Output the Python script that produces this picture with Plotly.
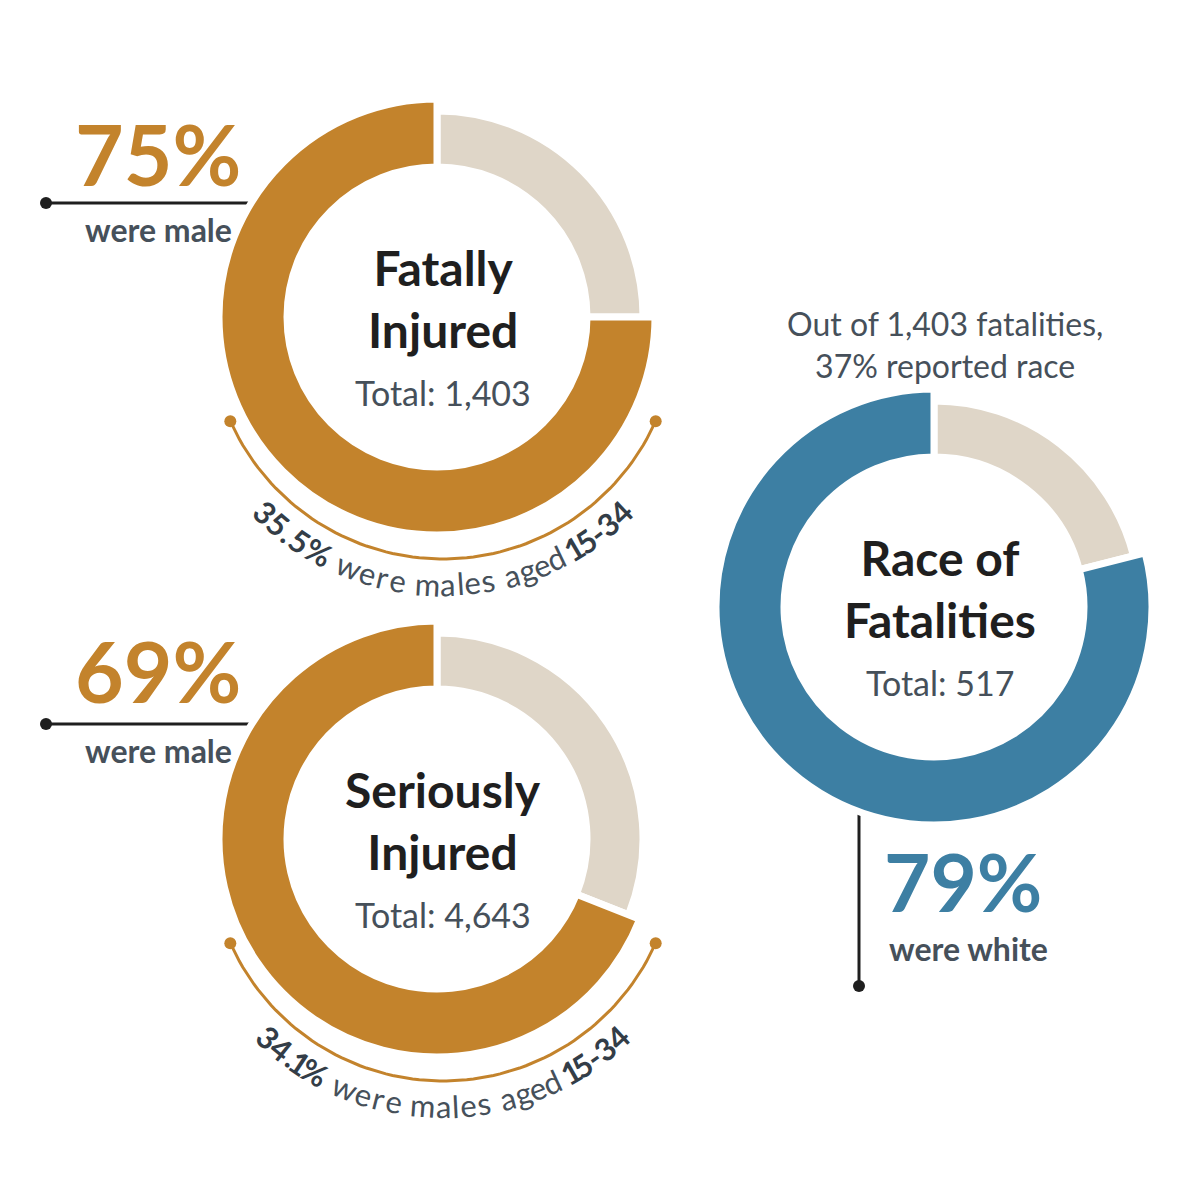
import numpy as np
import plotly.graph_objects as go

# data
titles = ["Fatally<br>Injured", "Seriously<br>Injured", "Race of<br>Fatalities"]
totals = ["Total: 1,403", "Total: 4,643", "Total: 517"]
share_pct = [75, 69, 79]
share_text = ["were male", "were male", "were white"]
young_pct = ["35.5%", "34.1%"]
race_note = "Out of 1,403 fatalities,<br>37% reported race"

GOLD = "#c3832c"
BLUE = "#3d7fa3"
BEIGE = "#dfd6c8"
DARK = "#1f1f1f"
GREY = "#46505a"
FONT = "Lato"
W = 1200

centers = [(435, 318), (435, 840), (932, 608)]
colors = [GOLD, GOLD, BLUE]
r_out, r_beige, r_in = 218, 206, 150

fig = go.Figure()


def dom(cx, cy, r):
    # small shift to compensate plotly's pie placement
    cx, cy = cx - 6, cy - 9
    return dict(x=[(cx - r) / W, (cx + r) / W], y=[1 - (cy + r) / W, 1 - (cy - r) / W])


for (cx, cy), p, c in zip(centers, share_pct, colors):
    rest = 100 - p
    fig.add_trace(go.Pie(values=[rest, p], sort=False, direction="clockwise",
                         hole=r_in / r_beige, domain=dom(cx, cy, r_beige),
                         marker=dict(colors=[BEIGE, "rgba(0,0,0,0)"],
                                     line=dict(color="white", width=[7, 0])),
                         textinfo="none", hoverinfo="skip", showlegend=False))
    fig.add_trace(go.Pie(values=[rest, p], sort=False, direction="clockwise",
                         hole=r_in / r_out, domain=dom(cx, cy, r_out),
                         marker=dict(colors=["rgba(0,0,0,0)", c],
                                     line=dict(color="white", width=[0, 7])),
                         textinfo="none", hoverinfo="skip", showlegend=False))

ann = []
for (cx, cy), t, tot in zip(centers, titles, totals):
    ann.append(dict(x=cx, y=cy - 28, text="<b>" + t + "</b>", showarrow=False,
                    font=dict(family=FONT, size=48, color=DARK), yanchor="middle"))
    ann.append(dict(x=cx, y=cy + 66, text=tot, showarrow=False,
                    font=dict(family=FONT, size=34, color=GREY)))

# big percentages with leader lines
for i, (ly, py) in enumerate([(195, 145), (716, 662)]):
    fig.add_trace(go.Scatter(x=[38, 303], y=[ly, ly], mode="lines",
                             line=dict(color=DARK, width=3), hoverinfo="skip", showlegend=False))
    fig.add_trace(go.Scatter(x=[38], y=[ly], mode="markers", marker=dict(color=DARK, size=12),
                             hoverinfo="skip", showlegend=False))
    ann.append(dict(x=150, y=py, text="<b>%d%%</b>" % share_pct[i], showarrow=False,
                    font=dict(family=FONT, size=84, color=GOLD)))
    ann.append(dict(x=150, y=ly + 26, text="<b>" + share_text[i] + "</b>", showarrow=False,
                    font=dict(family=FONT, size=32, color=GREY)))

fig.add_trace(go.Scatter(x=[851, 851], y=[778, 978], mode="lines",
                         line=dict(color=DARK, width=3), hoverinfo="skip", showlegend=False))
fig.add_trace(go.Scatter(x=[851], y=[978], mode="markers", marker=dict(color=DARK, size=12),
                         hoverinfo="skip", showlegend=False))
ann.append(dict(x=955, y=873, text="<b>%d%%</b>" % share_pct[2], showarrow=False,
                font=dict(family=FONT, size=80, color=BLUE)))
ann.append(dict(x=960, y=940, text="<b>" + share_text[2] + "</b>", showarrow=False,
                font=dict(family=FONT, size=32, color=GREY)))
ann.append(dict(x=937, y=336, text=race_note, showarrow=False,
                font=dict(family=FONT, size=32, color=GREY)))

# arcs with curved captions
narrow = set(".,:;' -1lIij")
for (cx, cy), yp in zip(centers[:2], young_pct):
    ra = 233
    th = np.linspace(np.radians(-155.9), np.radians(-24.1), 80)
    fig.add_trace(go.Scatter(x=cx + ra * np.cos(th), y=cy - ra * np.sin(th), mode="lines",
                             line=dict(color=GOLD, width=3), hoverinfo="skip", showlegend=False))
    ex = ra * np.cos(np.radians(24.1))
    ey = ra * np.sin(np.radians(24.1))
    fig.add_trace(go.Scatter(x=[cx - ex, cx + ex], y=[cy + ey, cy + ey], mode="markers",
                             marker=dict(color=GOLD, size=12), hoverinfo="skip", showlegend=False))
    parts = [(yp, True), (" were males aged ", False), ("15-34", True)]
    chars = [(ch, b) for s, b in parts for ch in s]
    size = 31
    widths = []
    for ch, b in chars:
        if ch in narrow:
            k = 0.3
        elif ch in "m%w":
            k = 0.8
        elif b:
            k = 0.58
        else:
            k = 0.5
        widths.append(size * k)
    rt = 258
    total = sum(widths)
    pos = -total / 2
    for (ch, b), w in zip(chars, widths):
        s = pos + w / 2
        pos += w
        if ch == " ":
            continue
        x = cx + rt * np.sin(s / rt)
        y = cy + rt * np.cos(s / rt)
        ann.append(dict(x=x, y=y, text=("<b>%s</b>" % ch) if b else ch, showarrow=False,
                        textangle=-np.degrees(s / rt),
                        font=dict(family=FONT, size=size, color="#333d47" if b else GREY)))

fig.update_layout(width=1200, height=1200, margin=dict(l=0, r=0, t=0, b=0),
                  paper_bgcolor="white", plot_bgcolor="white", annotations=ann,
                  xaxis=dict(range=[0, 1200], visible=False, fixedrange=True),
                  yaxis=dict(range=[1200, 0], visible=False, fixedrange=True))
fig.write_html("out.html")
